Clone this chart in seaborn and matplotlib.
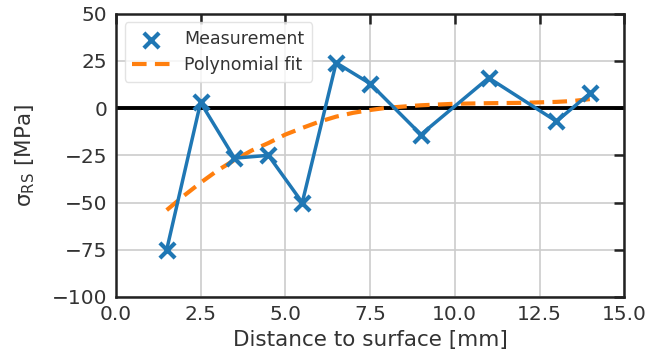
import matplotlib
matplotlib.use("Agg")
import matplotlib.pyplot as plt
import seaborn as sns
import pandas as pd

# Data
distance = [1.5, 2.5, 3.5, 4.5, 5.5, 6.5, 7.5, 9.0, 11.0, 13.0, 14.0]
stress = [-75, 3, -26.5, -25, -50, 24, 13, -14, 16, -7, 8]

fit_x = [1.5, 2.0, 2.5, 3.0, 3.5, 4.0, 4.5, 5.0, 5.5, 6.0, 6.5, 7.0, 7.5, 8.0, 9.0, 10.0, 11.0, 12.0, 13.0, 13.5, 14.0]
fit_y = [-54, -46.5, -39.5, -33, -27.5, -22.5, -18.5, -14, -10.5, -7.2, -4.5, -2.5, -1, 0.2, 1.5, 2.3, 2.6, 2.8, 3.3, 3.8, 4.8]

x_ticks = [0.0, 2.5, 5.0, 7.5, 10.0, 12.5, 15.0]
y_ticks = [-100, -75, -50, -25, 0, 25, 50]

sns.set_style("whitegrid")
plt.rcParams['font.family'] = ['DejaVu Sans']
plt.rcParams.update({
    "axes.edgecolor": "#222222",
    "axes.linewidth": 1.8,
    "grid.color": "#cccccc",
    "grid.linewidth": 1.2,
    "xtick.direction": "in",
    "ytick.direction": "in",
    "xtick.major.size": 7,
    "ytick.major.size": 7,
    "xtick.major.width": 1.8,
    "ytick.major.width": 1.8,
    "xtick.top": True,
    "ytick.right": True,
    "xtick.color": "#222222",
    "ytick.color": "#222222",
})

meas = pd.DataFrame({"x": distance, "y": stress})
fit = pd.DataFrame({"x": fit_x, "y": fit_y})

fig, ax = plt.subplots(figsize=(6.62, 3.6), dpi=100)
ax.axhline(0, color="black", lw=2.8, zorder=1)
sns.lineplot(data=meas, x="x", y="y", ax=ax, color="#1f77b4", lw=2.5, zorder=3, legend=False)
sns.scatterplot(data=meas, x="x", y="y", ax=ax, color="#1f77b4", marker="x", s=120,
                linewidth=3, zorder=4, label="Measurement")
sns.lineplot(data=fit, x="x", y="y", ax=ax, color="#ff7f0e", lw=3, ls=(0, (3.5, 2)),
             zorder=2, label="Polynomial fit")

ax.set_xlim(0, 15)
ax.set_ylim(-100, 50)
ax.set_xticks(x_ticks)
ax.set_yticks(y_ticks)
ax.tick_params(labelsize=14.5, pad=6, labelcolor="#333333")
ax.set_xlabel("Distance to surface [mm]", fontsize=15.5, color="#333333", labelpad=4)
ax.set_ylabel("σ$_\\mathregular{RS}$ [MPa]", fontsize=15.5, color="#333333", labelpad=11)
for s in ax.spines.values():
    s.set_visible(True)
    s.set_zorder(5)

leg = ax.legend(loc="upper left", fontsize=12.5, frameon=True, handlelength=2.2,
                borderpad=0.45, labelspacing=0.45)
leg.get_frame().set_edgecolor("#dddddd")
leg.get_frame().set_alpha(0.8)
for t in leg.get_texts():
    t.set_color("#333333")

fig.subplots_adjust(left=0.175, right=0.943, top=0.962, bottom=0.175)
fig.savefig("out.png", dpi=100)
